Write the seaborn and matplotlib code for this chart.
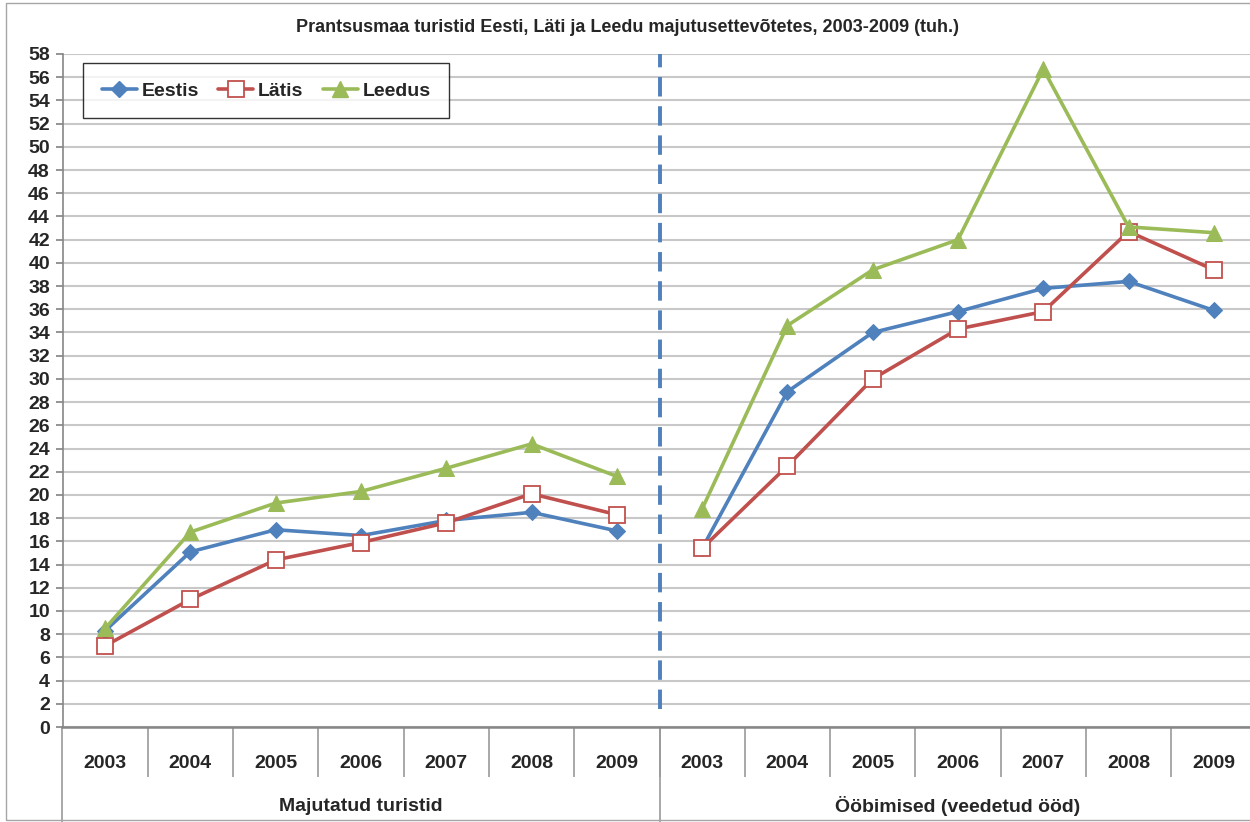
import numpy as np
import pandas as pd
import matplotlib
matplotlib.use('Agg')
import matplotlib.pyplot as plt
import matplotlib.transforms as mtransforms
from matplotlib.lines import Line2D
from matplotlib.patches import Rectangle
import seaborn as sns

years = ['2003', '2004', '2005', '2006', '2007', '2008', '2009']
groups = ['Majutatud turistid', 'Ööbimised (veedetud ööd)']
series = ['Eestis', 'Lätis', 'Leedus']

eestis_turistid = [8.3, 15.1, 17.0, 16.5, 17.8, 18.5, 16.9]
latis_turistid = [7.0, 11.0, 14.4, 15.9, 17.6, 20.1, 18.3]
leedus_turistid = [8.5, 16.8, 19.3, 20.3, 22.3, 24.4, 21.6]

eestis_oobimised = [15.4, 28.9, 34.0, 35.8, 37.8, 38.4, 35.9]
latis_oobimised = [15.4, 22.5, 30.0, 34.3, 35.8, 42.7, 39.4]
leedus_oobimised = [18.8, 34.6, 39.4, 42.0, 56.7, 43.1, 42.6]

values = {
    'Eestis': [eestis_turistid, eestis_oobimised],
    'Lätis': [latis_turistid, latis_oobimised],
    'Leedus': [leedus_turistid, leedus_oobimised],
}

rows = []
for s in series:
    for g, grp in enumerate(groups):
        for i, yr in enumerate(years):
            rows.append({'series': s, 'group': grp, 'year': yr,
                         'pos': g * len(years) + i, 'value': values[s][g][i]})
df = pd.DataFrame(rows)

colors = {'Eestis': '#4F81BD', 'Lätis': '#C0504D', 'Leedus': '#9BBB59'}
marker_kw = {
    'Eestis': dict(marker='D', markersize=8, markerfacecolor='#4F81BD', markeredgecolor='#4F81BD'),
    'Lätis': dict(marker='s', markersize=11, markerfacecolor='white', markeredgecolor='#C0504D', markeredgewidth=1.3),
    'Leedus': dict(marker='^', markersize=11, markerfacecolor='#9BBB59', markeredgecolor='#9BBB59'),
}

sns.set_theme(style='white')
plt.rcParams['font.family'] = ['Liberation Sans', 'DejaVu Sans']
plt.rcParams['font.weight'] = 'bold'

fig = plt.figure(figsize=(12.5, 8.22), dpi=100)
# plot area runs a little past the right edge, as in the cropped original
ax = fig.add_axes([62.5 / 1250, 95 / 822, 1194 / 1250, 673 / 822])

fig.patches.append(Rectangle((0.005, 0.002), 1.0, 0.994, transform=fig.transFigure,
                             fill=False, edgecolor='#A6A6A6', lw=1))

for s in series:
    sub = df[df['series'] == s]
    sns.lineplot(data=sub, x='pos', y='value', units='group', estimator=None,
                 color=colors[s], lw=2.6, ax=ax, legend=False, zorder=3,
                 **marker_kw[s])

n = len(years) * len(groups)
ax.set_xlim(-0.5, n - 0.5)
ax.set_ylim(0, 58)
ax.set_yticks(np.arange(0, 59, 2))
ax.tick_params(axis='y', labelsize=14, length=5, color='#868686', direction='out', pad=4, left=True)
for lab in ax.get_yticklabels():
    lab.set_fontweight('bold')
ax.grid(axis='y', color='#C8C8C8', lw=1.5)
ax.set_axisbelow(True)
for sp in ['top', 'right']:
    ax.spines[sp].set_visible(False)
ax.spines['left'].set_color('#868686')
ax.spines['bottom'].set_color('#868686')
ax.spines['left'].set_linewidth(1.2)
ax.spines['bottom'].set_linewidth(1.8)

# category axis: year labels and separators
ax.set_xticks(np.arange(n))
ax.set_xticklabels(years * len(groups), fontsize=14, fontweight='bold')
ax.tick_params(axis='x', which='major', length=0, pad=20)
ax.set_xticks(np.arange(0.5, n - 1, 1), minor=True)
ax.tick_params(axis='x', which='minor', bottom=True, length=36, color='#9A9A9A', width=1.2, direction='out')
ax.set_xlabel('')
ax.set_ylabel('')

trans = mtransforms.blended_transform_factory(ax.transData, ax.transAxes)
for b in [-0.5, len(years) - 0.5]:
    ax.plot([b, b], [0, -0.145], transform=trans, color='#9A9A9A', lw=1.2, clip_on=False)
for g, grp in enumerate(groups):
    ax.text(g * len(years) + (len(years) - 1) / 2, -0.118, grp, transform=trans,
            ha='center', va='center', fontsize=14, fontweight='bold')

# divider between the two blocks
ax.axvline(len(years) - 0.5, ymin=0.027, ymax=1.0, color='#4F81BD', lw=2.8,
           ls=(0, (5, 2.5)), zorder=2)

fig.text(627 / 1250, 1 - 27 / 822,
         'Prantsusmaa turistid Eesti, Läti ja Leedu majutusettevõtetes, 2003-2009 (tuh.)',
         fontsize=13, fontweight='bold', ha='center', va='center')

handles = [Line2D([], [], color=colors[s], lw=2.6, **marker_kw[s]) for s in series]
leg = ax.legend(handles, series, loc='upper left', bbox_to_anchor=(0.0172, 0.986),
                ncol=3, frameon=True, fancybox=False,
                handlelength=1.8, handletextpad=0.25, columnspacing=1.0,
                borderpad=0.95, borderaxespad=0,
                prop={'weight': 'bold', 'size': 14})
leg.get_frame().set_edgecolor('black')
leg.get_frame().set_linewidth(1)

plt.savefig('out.png', dpi=100)
